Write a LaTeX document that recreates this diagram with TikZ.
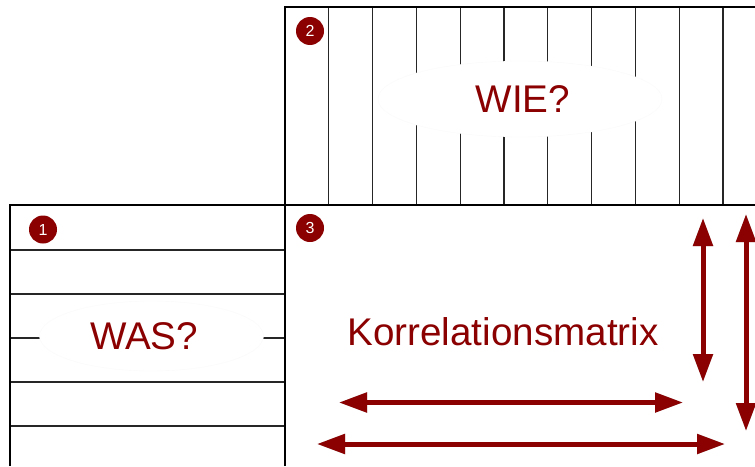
\documentclass[tikz,border=0pt]{standalone}
\usepackage{fontspec}
\setmainfont{Liberation Sans}
\usetikzlibrary{arrows.meta,shapes.geometric}

\definecolor{darkred}{RGB}{139,0,0}

\tikzset{
  frame/.style={line width=2pt, black},
  rule/.style={line width=1.2pt, black!85},
  cover/.style={ellipse, fill=white, draw=black!2, line width=0.4pt, inner sep=0pt},
  title/.style={text=darkred, font=\fontsize{38.6}{40}\selectfont, inner sep=0pt},
  badge/.style={circle, fill=darkred, text=white, minimum size=28pt, inner sep=0pt,
                font=\fontsize{16}{16}\selectfont},
  dbl/.style={line width=5pt, darkred,
              {Triangle[length=28pt,width=19pt]}-{Triangle[length=28pt,width=19pt]}},
  dblshadow/.style={line width=5pt, black, opacity=0.25,
              {Triangle[length=28pt,width=19pt]}-{Triangle[length=28pt,width=19pt]}},
}

\begin{document}
\begin{tikzpicture}[x=1pt, y=-1pt]
  \useasboundingbox (0,0) rectangle (755,466);
  \clip (0,0) rectangle (755,466);
  \fill[white] (0,0) rectangle (755,466);

  % column rules of the upper block
  \foreach \k in {1,...,10}
    \draw[rule] ({285+43.8*\k},7) -- ({285+43.8*\k},205);
  % row rules of the left block
  \foreach \yy in {250,294,338,382,426}
    \draw[rule] (10,\yy) -- (285,\yy);

  % white ellipses behind the headings
  \node[cover, minimum width=284pt, minimum height=76pt] (wiebg) at (520,99) {};
  \node[cover, minimum width=224pt, minimum height=70pt] (wasbg) at (151.5,336) {};

  % outer frame
  \draw[frame] (285,466) -- (285,7) -- (760,7);
  \draw[frame] (10,466) -- (10,205) -- (760,205);

  % headings
  \node[title] (wie) at (523,99) {WIE?};
  \node[title] (was) at (144,336) {WAS?};
  \node[title] (korr) at (503,331.5) {Korrelationsmatrix};

  % numbered badges
  \node[badge] (b1) at (43,229.5) {1};
  \node[badge] (b2) at (310,31) {2};
  \node[badge] (b3) at (310,228) {3};

  % arrow end points
  \coordinate (h1a) at (339,402.5);
  \coordinate (h1b) at (683,402.5);
  \coordinate (h2a) at (317,444);
  \coordinate (h2b) at (725,444);
  \coordinate (v1a) at (703,218);
  \coordinate (v1b) at (703,382);
  \coordinate (v2a) at (746,214);
  \coordinate (v2b) at (746,431);

  % soft shadows of the arrows
  \begin{scope}[shift={(2,2)}]
    \draw[dblshadow] (h1a) -- (h1b);
    \draw[dblshadow] (h2a) -- (h2b);
    \draw[dblshadow] (v1a) -- (v1b);
    \draw[dblshadow] (v2a) -- (v2b);
  \end{scope}

  % double-headed arrows
  \draw[dbl] (h1a) -- (h1b);
  \draw[dbl] (h2a) -- (h2b);
  \draw[dbl] (v1a) -- (v1b);
  \draw[dbl] (v2a) -- (v2b);
\end{tikzpicture}
\end{document}
